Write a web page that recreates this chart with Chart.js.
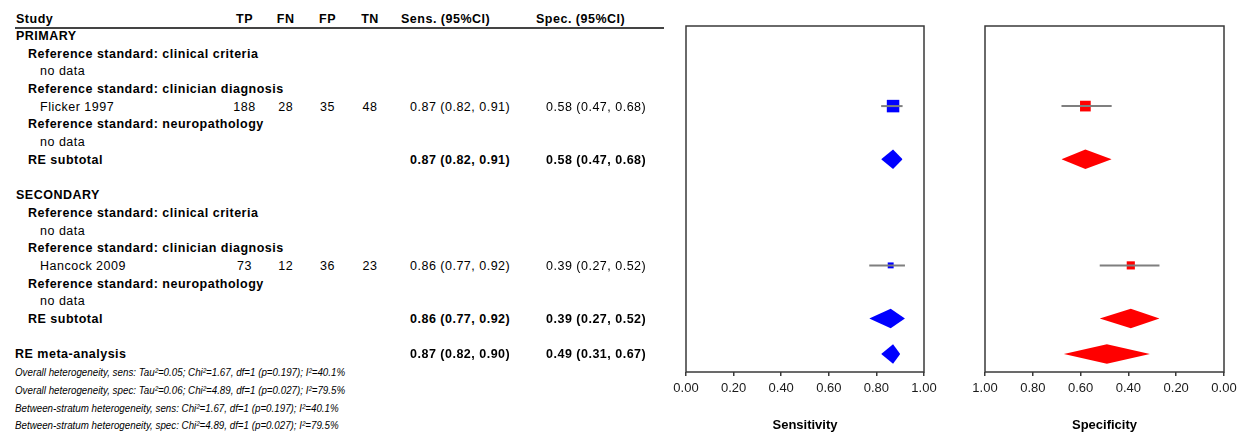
<!DOCTYPE html>
<html>
<head>
<meta charset="utf-8">
<title>Forest plot: sensitivity and specificity</title>
<script src="https://cdn.jsdelivr.net/npm/chart.js@4.4.1/dist/chart.umd.min.js"></script>
<style>
  html, body { margin: 0; padding: 0; background: #fff; }
  #wrap { position: relative; width: 1241px; height: 433px; overflow: hidden;
          font-family: 'Liberation Sans', Arial, sans-serif; color: #000; }
  .t { position: absolute; white-space: nowrap; font-size: 12.5px; line-height: 14px; letter-spacing: 0.5px; }
  .b { font-weight: bold; }
  .c { transform: translateX(-50%); }
  .i { font-style: italic; font-size: 11.5px; letter-spacing: 0; transform: scaleX(0.85); transform-origin: 0 50%; }
  canvas { position: absolute; top: 0; }
  #rule { position: absolute; left: 15px; top: 27px; width: 649px; height: 0; border-top: 2px solid #444; }
</style>
</head>
<body>
<div id="wrap">
  <div id="rule"></div>
  <canvas id="sensCanvas" width="320" height="433" style="left:646px"></canvas>
  <canvas id="specCanvas" width="275" height="433" style="left:966px"></canvas>
</div>
<script>
// ---- Study-level 2x2 counts and accuracy estimates ----
const studies = ['Flicker 1997', 'Hancock 2009'];
const tp = [188, 73];
const fn = [28, 12];
const fp = [35, 36];
const tn = [48, 23];
const sens   = [0.87, 0.86];
const sensLo = [0.82, 0.77];
const sensHi = [0.91, 0.92];
const spec   = [0.58, 0.39];
const specLo = [0.47, 0.27];
const specHi = [0.68, 0.52];

// ---- Pooled (random-effects) estimates ----
const summaryLabels = ['RE subtotal', 'RE subtotal', 'RE meta-analysis'];
const sumSens   = [0.87, 0.86, 0.87];
const sumSensLo = [0.82, 0.77, 0.82];
const sumSensHi = [0.91, 0.92, 0.90];
const sumSpec   = [0.58, 0.39, 0.49];
const sumSpecLo = [0.47, 0.27, 0.31];
const sumSpecHi = [0.68, 0.52, 0.67];

// ---- Axis ticks and footnotes ----
const xTicks = [0, 0.2, 0.4, 0.6, 0.8, 1.0];
const columnHeads = ['TP', 'FN', 'FP', 'TN'];
const footnotes = [
  'Overall heterogeneity, sens: Tau\u00B2=0.05; Chi\u00B2=1.67, df=1 (p=0.197); I\u00B2=40.1%',
  'Overall heterogeneity, spec: Tau\u00B2=0.06; Chi\u00B2=4.89, df=1 (p=0.027); I\u00B2=79.5%',
  'Between-stratum heterogeneity, sens: Chi\u00B2=1.67, df=1 (p=0.197); I\u00B2=40.1%',
  'Between-stratum heterogeneity, spec: Chi\u00B2=4.89, df=1 (p=0.027); I\u00B2=79.5%'
];

// ---- Row structure of the table (one entry per line) ----
const rows = [
  { text: 'PRIMARY', level: 0, bold: true },
  { text: 'Reference standard: clinical criteria', level: 1, bold: true },
  { text: 'no data', level: 2 },
  { text: 'Reference standard: clinician diagnosis', level: 1, bold: true },
  { study: 0 },
  { text: 'Reference standard: neuropathology', level: 1, bold: true },
  { text: 'no data', level: 2 },
  { summary: 0, level: 1 },
  {},
  { text: 'SECONDARY', level: 0, bold: true },
  { text: 'Reference standard: clinical criteria', level: 1, bold: true },
  { text: 'no data', level: 2 },
  { text: 'Reference standard: clinician diagnosis', level: 1, bold: true },
  { study: 1 },
  { text: 'Reference standard: neuropathology', level: 1, bold: true },
  { text: 'no data', level: 2 },
  { summary: 1, level: 1 },
  {},
  { summary: 2, level: 0 }
];

const studyRows = studies.map((_, k) => rows.findIndex(r => r.study === k));
const summaryRows = summaryLabels.map((_, k) => rows.findIndex(r => r.summary === k));

const FONT = "'Liberation Sans', Arial, sans-serif";
Chart.defaults.font.family = FONT;

const levelX = [15, 28, 40];
const colCenters = [244.5, 285.7, 327.5, 370];
const sensX = 410, specX = 546;
const DIAMOND_HALF = 0.55;

const fmt = (v, lo, hi) => `${v.toFixed(2)} (${lo.toFixed(2)}, ${hi.toFixed(2)})`;

// Square side grows with the number of participants contributing to the estimate
function squareRadii(counts, maxSide) {
  const nMax = Math.max(...counts);
  return counts.map(n => maxSide * Math.pow(n / nMax, 0.8) / Math.SQRT2);
}

function panelDatasets(est, lo, hi, counts, maxSide, sEst, sLo, sHi, color) {
  const ds = [];
  studyRows.forEach((r, k) => {
    ds.push({
      data: [{ x: lo[k], y: r }, { x: hi[k], y: r }],
      borderColor: '#7f7f7f', borderWidth: 2, pointRadius: 0, fill: false
    });
  });
  const radii = squareRadii(counts, maxSide);
  ds.push({
    data: studyRows.map((r, k) => ({ x: est[k], y: r })),
    showLine: false, pointStyle: 'rect',
    pointRadius: c => radii[c.dataIndex],
    pointBackgroundColor: color, pointBorderWidth: 0
  });
  summaryRows.forEach((r, k) => {
    ds.push({
      data: [{ x: sLo[k], y: r }, { x: sEst[k], y: r - DIAMOND_HALF }, { x: sHi[k], y: r }],
      fill: '+1', backgroundColor: color, borderColor: color, borderWidth: 0, pointRadius: 0
    });
    ds.push({
      data: [{ x: sLo[k], y: r }, { x: sEst[k], y: r + DIAMOND_HALF }, { x: sHi[k], y: r }],
      fill: false, borderColor: color, borderWidth: 0, pointRadius: 0
    });
  });
  return ds;
}

// Draws the rectangular frame round each plotting area
const frame = {
  id: 'frame',
  beforeDatasetsDraw(chart) {
    const { ctx, chartArea: a } = chart;
    ctx.save();
    ctx.strokeStyle = '#3a3a3a';
    ctx.lineWidth = 1.5;
    ctx.strokeRect(a.left, a.top, a.right - a.left, a.bottom - a.top);
    ctx.restore();
  }
};

function makePanel(canvas, padLeft, padRight, reverse, title, datasets) {
  return new Chart(canvas, {
    type: 'line',
    data: { datasets },
    options: {
      responsive: false,
      animation: false,
      devicePixelRatio: 1,
      events: [],
      layout: { padding: { left: padLeft, right: padRight, top: 26, bottom: 0 } },
      plugins: { legend: { display: false }, tooltip: { enabled: false } },
      scales: {
        x: {
          type: 'linear', min: 0, max: 1, reverse,
          afterBuildTicks: s => { s.ticks = xTicks.map(v => ({ value: v })); },
          afterFit: s => { s.height = 61; },
          ticks: {
            callback: v => Number(v).toFixed(2),
            font: { size: 13 }, color: '#1a1a1a', padding: 5,
            maxRotation: 0, autoSkip: false
          },
          grid: { drawOnChartArea: false, drawTicks: true, tickLength: 4, color: '#3a3a3a', lineWidth: 1.5 },
          border: { display: false },
          title: { display: true, text: title, color: '#000', padding: 0,
                   font: { size: 13, weight: 'bold' } }
        },
        y: { type: 'linear', display: false, min: -0.525, max: 19.023, reverse: true }
      }
    },
    plugins: [frame]
  });
}

const sensCounts = tp.map((v, k) => v + fn[k]);
const specCounts = tn.map((v, k) => v + fp[k]);

const sensChart = makePanel(document.getElementById('sensCanvas'), 40, 42, false, 'Sensitivity',
  panelDatasets(sens, sensLo, sensHi, sensCounts, 12.5, sumSens, sumSensLo, sumSensHi, '#0000ff'));
makePanel(document.getElementById('specCanvas'), 19, 17, true, 'Specificity',
  panelDatasets(spec, specLo, specHi, specCounts, 10.7, sumSpec, sumSpecLo, sumSpecHi, '#ff0000'));

// ---- Table text, aligned to the same row scale as the plots ----
const wrap = document.getElementById('wrap');
const yScale = sensChart.scales.y;
const rowY = i => yScale.getPixelForValue(i) + 0.6;

function put(text, x, y, cls) {
  const el = document.createElement('div');
  el.className = 't ' + (cls || '');
  el.textContent = text;
  el.style.left = x + 'px';
  el.style.top = (y - 7) + 'px';
  wrap.appendChild(el);
}

const headY = rowY(-0.95);
put('Study', 16, headY, 'b');
columnHeads.forEach((h, k) => put(h, colCenters[k], headY, 'b c'));
put('Sens. (95%CI)', 401, headY, 'b');
put('Spec. (95%CI)', 536, headY, 'b');

rows.forEach((r, i) => {
  const y = rowY(i);
  if (r.text) {
    put(r.text, r.level === 0 ? 16 : levelX[r.level], y, r.bold ? 'b' : '');
  } else if (r.study !== undefined) {
    const k = r.study;
    put(studies[k], levelX[2], y, '');
    [tp[k], fn[k], fp[k], tn[k]].forEach((v, j) => put(String(v), colCenters[j], y, 'c'));
    put(fmt(sens[k], sensLo[k], sensHi[k]), sensX, y, '');
    put(fmt(spec[k], specLo[k], specHi[k]), specX, y, '');
  } else if (r.summary !== undefined) {
    const k = r.summary;
    put(summaryLabels[k], levelX[r.level], y, 'b');
    put(fmt(sumSens[k], sumSensLo[k], sumSensHi[k]), sensX, y, 'b');
    put(fmt(sumSpec[k], sumSpecLo[k], sumSpecHi[k]), specX, y, 'b');
  }
});

footnotes.forEach((f, j) => put(f, 15, rowY(rows.length + j), 'i'));
</script>
</body>
</html>
